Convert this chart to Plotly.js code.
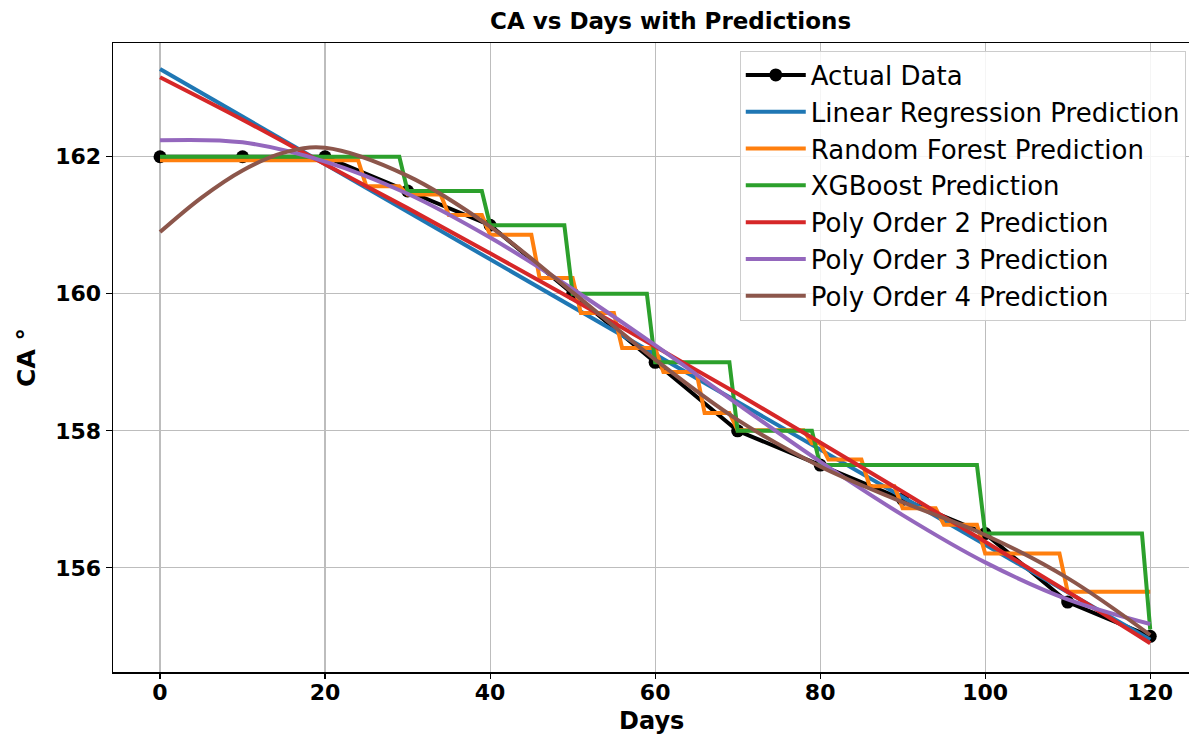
<!DOCTYPE html>
<html>
<head>
<meta charset="utf-8">
<script src="https://cdn.plot.ly/plotly-3.0.1.min.js"></script>
<style>html,body{margin:0;padding:0;background:#fff;}#chart{width:1189px;height:736px;}</style>
</head>
<body>
<div id="chart"></div>
<script>
// Actual data
const days = [0,10,20,30,40,50,60,70,80,90,100,110,120];
const actual = [162,162,162,161.5,161,160,159,158,157.5,157,156.5,155.5,155];

// Linear regression prediction (end points)
const linX = [0,120];
const linY = [163.28,154.95];

// Random forest prediction (step breakpoints)
const rfX = [0,24,25,29,30,34,35,39,40,45,46,50,51,55,56,60,61,65,66,69,70,78,79,80,81,85,86,89,90,94,95,99,100,109,110,120];
const rfY = [161.95,161.95,161.57,161.57,161.45,161.45,161.15,161.15,160.86,160.86,160.23,160.23,159.72,159.72,159.21,159.21,158.86,158.86,158.26,158.26,158.01,158.01,157.82,157.82,157.58,157.58,157.19,157.19,156.87,156.87,156.63,156.63,156.21,156.21,155.65,155.65];

// XGBoost prediction (step breakpoints)
const xgbX = [0,29,30,39,40,49,50,59,60,69,70,79,80,99,100,119,120];
const xgbY = [162,162,161.5,161.5,161,161,160,160,159,159,158,158,157.5,157.5,156.5,156.5,155.1];

// Polynomial predictions
const polyX = [0,10,20,30,40,50,60,70,80,90,100,110,120];
const poly2 = [163.16,162.54,161.89,161.25,160.59,159.92,159.23,158.54,157.83,157.11,156.38,155.65,154.90];
const poly3 = [162.24,162.21,161.93,161.46,160.82,160.07,159.25,158.39,157.55,156.77,156.08,155.54,155.18];
const poly4X = [0,5,10,15,20,30,40,50,60,70,80,90,100,110,120];
const poly4 = [160.90,161.40,161.80,162.06,162.13,161.72,160.98,160.02,159.04,158.16,157.48,156.96,156.48,155.85,155.02];

const xTicks = [0,20,40,60,80,100,120];
const yTicks = [156,158,160,162];

const LW = 4;
const traces = [
  {x: days, y: actual, name: 'Actual Data', mode: 'lines+markers', legendgroup: 'a',
   line: {color: '#000000', width: LW}, marker: {color: '#000000', size: 13}},
  {x: linX, y: linY, name: 'Linear Regression Prediction', mode: 'lines', legendgroup: 'b',
   line: {color: '#1f77b4', width: LW}},
  {x: rfX, y: rfY, name: 'Random Forest Prediction', mode: 'lines', legendgroup: 'c',
   line: {color: '#ff7f0e', width: LW}},
  {x: xgbX, y: xgbY, name: 'XGBoost Prediction', mode: 'lines', legendgroup: 'd',
   line: {color: '#2ca02c', width: LW}},
  {x: polyX, y: poly2, name: 'Poly Order 2 Prediction', mode: 'lines', legendgroup: 'e',
   line: {color: '#d62728', width: LW, shape: 'spline'}},
  {x: polyX, y: poly3, name: 'Poly Order 3 Prediction', mode: 'lines', legendgroup: 'f',
   line: {color: '#9467bd', width: LW, shape: 'spline'}},
  {x: poly4X, y: poly4, name: 'Poly Order 4 Prediction', mode: 'lines', legendgroup: 'g',
   line: {color: '#8c564b', width: LW, shape: 'spline'}}
];

const F = 'DejaVu Sans, sans-serif';
const layout = {
  width: 1189, height: 736,
  margin: {l: 113, r: 0, t: 43, b: 64},
  paper_bgcolor: '#ffffff', plot_bgcolor: '#ffffff',
  title: {text: 'CA vs Days with Predictions', x: 0.564, xanchor: 'center', y: 0.972, yanchor: 'middle',
          font: {family: F, size: 23, weight: 'bold', color: '#000'}},
  xaxis: {range: [-5.7, 124.7], tickvals: xTicks, ticktext: xTicks.map(String),
          showgrid: true, gridcolor: '#bdbdbd', gridwidth: 1.2,
          showline: true, linecolor: '#000', linewidth: 1.5, mirror: true,
          ticks: 'outside', ticklen: 5, tickcolor: '#000', tickwidth: 1.2, zeroline: false,
          ticklabelstandoff: -5,
          tickfont: {family: F, size: 22, weight: 'bold', color: '#000'}},
  yaxis: {range: [154.48, 163.66], tickvals: yTicks, ticktext: yTicks.map(String),
          showgrid: true, gridcolor: '#bdbdbd', gridwidth: 1.2,
          showline: true, linecolor: '#000', linewidth: 1.5, mirror: true,
          ticks: 'outside', ticklen: 6, tickcolor: '#000', tickwidth: 1.2, zeroline: false,
          tickfont: {family: F, size: 22, weight: 'bold', color: '#000'},
          title: {text: 'CA °', standoff: 12, font: {family: F, size: 25, weight: 'bold', color: '#000'}}},
  annotations: [{text: 'Days', xref: 'paper', yref: 'paper', x: 0.5, y: -0.0775,
                 xanchor: 'center', yanchor: 'middle', showarrow: false,
                 font: {family: F, size: 24, weight: 'bold', color: '#000'}}],
  legend: {x: 0.997, xanchor: 'right', y: 0.988, yanchor: 'top',
           bgcolor: 'rgba(255,255,255,0.85)', bordercolor: '#cccccc', borderwidth: 1,
           font: {family: F, size: 26, color: '#000'}, itemwidth: 60,
           traceorder: 'grouped', tracegroupgap: 0},
  showlegend: true
};

Plotly.newPlot('chart', traces, layout, {displayModeBar: false, staticPlot: true});
</script>
</body>
</html>
